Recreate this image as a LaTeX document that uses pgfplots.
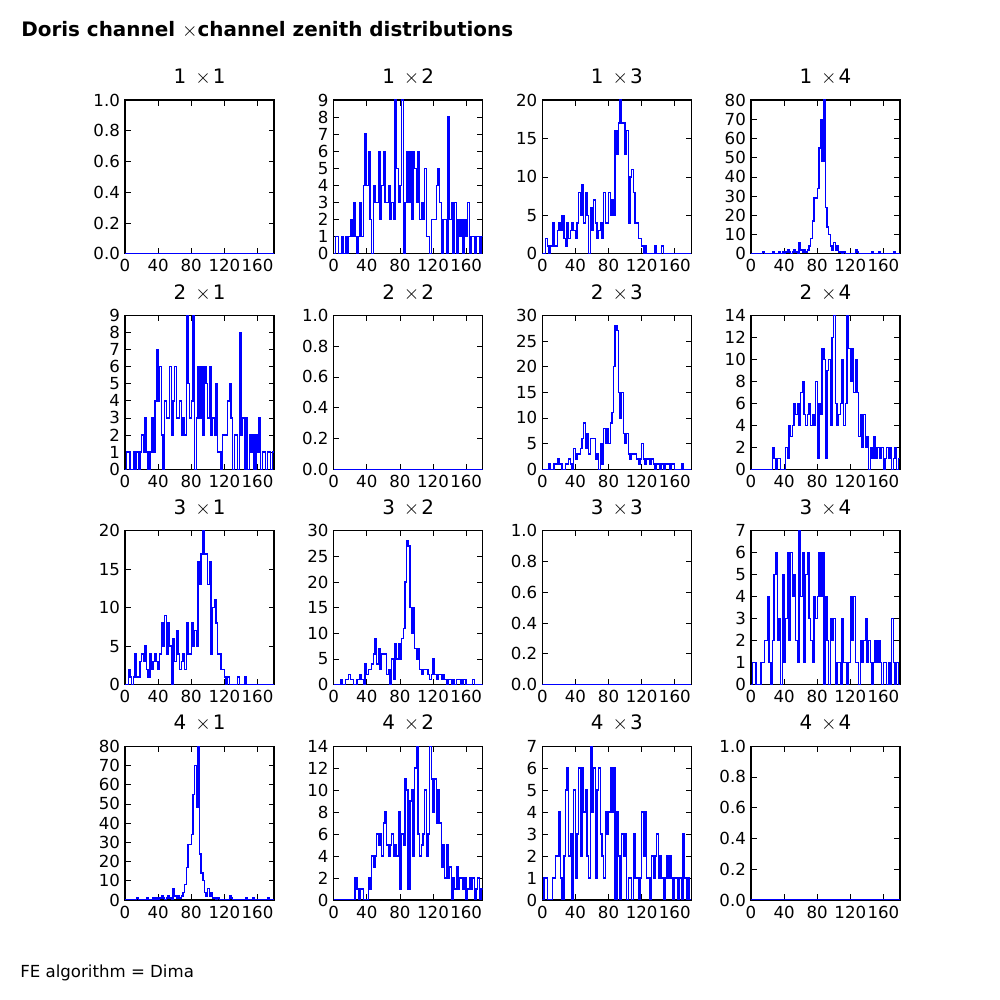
\documentclass[border=0pt]{standalone}
\usepackage{fontspec}
\setmainfont{DejaVu Sans}
\usepackage{pgfplots}
\usepackage{pgfplotstable}
\pgfplotsset{compat=1.18}

% channel 1 x 2 (and 2 x 1)
\pgfplotstableread[row sep=\\]{y\\0\\1\\1\\0\\0\\1\\0\\1\\0\\1\\2\\1\\3\\1\\0\\1\\3\\1\\4\\7\\4\\6\\2\\0\\4\\3\\3\\6\\2\\4\\6\\3\\3\\4\\2\\3\\2\\9\\5\\3\\4\\9\\0\\3\\6\\3\\6\\2\\6\\5\\3\\6\\2\\3\\2\\5\\1\\1\\0\\2\\2\\2\\4\\5\\3\\0\\2\\2\\0\\8\\2\\3\\0\\3\\0\\2\\1\\2\\0\\2\\1\\3\\0\\1\\1\\0\\1\\1\\0\\1\\1\\}\tabA
% channel 1 x 3
\pgfplotstableread[row sep=\\]{y\\0\\0\\2\\1\\0\\1\\4\\1\\1\\3\\4\\3\\5\\2\\1\\4\\2\\3\\4\\3\\2\\4\\8\\5\\9\\4\\8\\5\\0\\6\\3\\7\\4\\2\\3\\4\\2\\8\\4\\4\\8\\5\\7\\5\\16\\13\\17\\20\\17\\17\\13\\16\\4\\10\\11\\8\\4\\4\\2\\2\\1\\0\\1\\0\\0\\0\\0\\0\\1\\0\\0\\0\\1\\0\\0\\0\\0\\0\\0\\0\\0\\0\\0\\0\\0\\0\\0\\0\\0\\0\\0\\}\tabB
% channel 1 x 4
\pgfplotstableread[row sep=\\]{y\\0\\0\\0\\0\\0\\0\\0\\1\\0\\0\\0\\0\\0\\1\\0\\0\\0\\1\\0\\1\\0\\1\\2\\1\\0\\1\\2\\1\\0\\6\\2\\1\\2\\1\\2\\4\\8\\17\\29\\29\\34\\55\\70\\48\\80\\24\\14\\10\\4\\2\\6\\2\\4\\1\\1\\0\\1\\0\\0\\0\\0\\0\\0\\2\\1\\0\\0\\0\\0\\0\\0\\0\\0\\1\\0\\0\\0\\1\\0\\0\\0\\0\\0\\0\\0\\0\\1\\0\\0\\0\\0\\}\tabC
% channel 2 x 3
\pgfplotstableread[row sep=\\]{y\\0\\0\\0\\0\\1\\0\\0\\1\\1\\2\\1\\1\\0\\0\\1\\1\\2\\1\\0\\4\\2\\3\\3\\4\\6\\9\\4\\7\\3\\6\\6\\6\\2\\3\\0\\5\\1\\8\\5\\8\\5\\9\\11\\20\\28\\27\\15\\10\\15\\7\\5\\7\\3\\2\\3\\3\\3\\2\\1\\2\\5\\2\\1\\2\\2\\1\\2\\1\\0\\1\\1\\0\\1\\0\\1\\1\\1\\0\\1\\1\\0\\0\\0\\0\\1\\0\\0\\0\\0\\0\\0\\}\tabD
% channel 2 x 4
\pgfplotstableread[row sep=\\]{y\\0\\0\\0\\0\\0\\0\\0\\0\\0\\0\\0\\0\\0\\2\\1\\0\\1\\1\\0\\0\\0\\2\\1\\4\\3\\4\\6\\5\\6\\4\\7\\8\\5\\4\\5\\6\\4\\5\\4\\8\\1\\6\\5\\11\\10\\1\\9\\10\\4\\12\\14\\6\\4\\5\\6\\10\\4\\6\\14\\11\\8\\11\\7\\10\\7\\3\\5\\2\\5\\2\\3\\0\\2\\1\\3\\1\\2\\2\\1\\2\\0\\1\\2\\1\\2\\0\\1\\2\\0\\1\\1\\}\tabE
% channel 3 x 4
\pgfplotstableread[row sep=\\]{y\\0\\1\\1\\0\\0\\0\\1\\1\\2\\2\\4\\1\\0\\2\\5\\6\\2\\3\\0\\5\\1\\3\\6\\2\\6\\4\\5\\2\\1\\7\\4\\6\\1\\5\\6\\3\\2\\1\\4\\3\\4\\6\\4\\6\\0\\4\\2\\0\\3\\2\\3\\0\\1\\1\\0\\3\\1\\1\\0\\1\\4\\2\\4\\1\\1\\0\\2\\1\\2\\3\\1\\2\\1\\0\\1\\2\\1\\2\\1\\0\\1\\1\\0\\1\\0\\3\\1\\0\\1\\0\\0\\}\tabF

\pgfplotsset{
  hist/.style={
    scale only axis, width=107.71pt, height=111.19pt, anchor=south west,
    xmin=0, xmax=180, ymin=0, xtick={0,40,80,120,160},
    tick align=inside, major tick length=4pt,
    every tick/.style={black, line width=0.5pt},
    axis line style={black, line width=0.8pt},
    tick label style={font=\fontsize{12}{14}\selectfont, inner sep=0pt},
    xticklabel style={anchor=north, yshift=-4pt},
    yticklabel style={anchor=east, xshift=-3.5pt},
    /pgf/number format/assume math mode=true,
    scaled y ticks=false,
    title style={at={(0.5,1)}, anchor=base, yshift=5.8pt, font=\fontsize{14.4}{17}\selectfont},
  }
}

\newcommand{\ttl}[2]{#1\kern0.45em$\times$\kern0.1em#2}

\newcommand{\hist}[6]{%
\begin{axis}[hist, at={(#1,#2)}, title={#3}, ymax=#5, ytick={#6}]
\addplot[const plot, color=blue, line width=1pt] table[x expr=\coordindex*2, y=y] {#4};
\end{axis}}

\newcommand{\emptyhist}[3]{%
\begin{axis}[hist, at={(#1,#2)}, title={#3}, ymax=1, ytick={0,0.2,0.4,0.6,0.8,1},
  yticklabel style={/pgf/number format/.cd, fixed, fixed zerofill, precision=1}]
\addplot[color=blue, line width=1pt] coordinates {(0,0) (180,0)};
\end{axis}}

\begin{document}
\begin{tikzpicture}
\useasboundingbox (0,0) rectangle (722.7pt,722.7pt);
\node[anchor=base west, font=\fontsize{14.4}{17}\selectfont\bfseries, inner sep=0pt] at (15.18pt,696.0pt) {Doris channel $\times$channel zenith distributions};
\node[anchor=base west, font=\fontsize{12}{14}\selectfont, inner sep=0pt] at (14.45pt,16.62pt) {FE algorithm = Dima};

% row 1
\emptyhist{90.34pt}{539.24pt}{\ttl{1}{1}}
\hist{241.13pt}{539.24pt}{\ttl{1}{2}}{\tabA}{9}{0,1,...,9}
\hist{391.92pt}{539.24pt}{\ttl{1}{3}}{\tabB}{20}{0,5,...,20}
\hist{542.72pt}{539.24pt}{\ttl{1}{4}}{\tabC}{80}{0,10,...,80}
% row 2
\hist{90.34pt}{383.59pt}{\ttl{2}{1}}{\tabA}{9}{0,1,...,9}
\emptyhist{241.13pt}{383.59pt}{\ttl{2}{2}}
\hist{391.92pt}{383.59pt}{\ttl{2}{3}}{\tabD}{30}{0,5,...,30}
\hist{542.72pt}{383.59pt}{\ttl{2}{4}}{\tabE}{14}{0,2,...,14}
% row 3
\hist{90.34pt}{227.93pt}{\ttl{3}{1}}{\tabB}{20}{0,5,...,20}
\hist{241.13pt}{227.93pt}{\ttl{3}{2}}{\tabD}{30}{0,5,...,30}
\emptyhist{391.92pt}{227.93pt}{\ttl{3}{3}}
\hist{542.72pt}{227.93pt}{\ttl{3}{4}}{\tabF}{7}{0,1,...,7}
% row 4
\hist{90.34pt}{72.27pt}{\ttl{4}{1}}{\tabC}{80}{0,10,...,80}
\hist{241.13pt}{72.27pt}{\ttl{4}{2}}{\tabE}{14}{0,2,...,14}
\hist{391.92pt}{72.27pt}{\ttl{4}{3}}{\tabF}{7}{0,1,...,7}
\emptyhist{542.72pt}{72.27pt}{\ttl{4}{4}}
\end{tikzpicture}
\end{document}
